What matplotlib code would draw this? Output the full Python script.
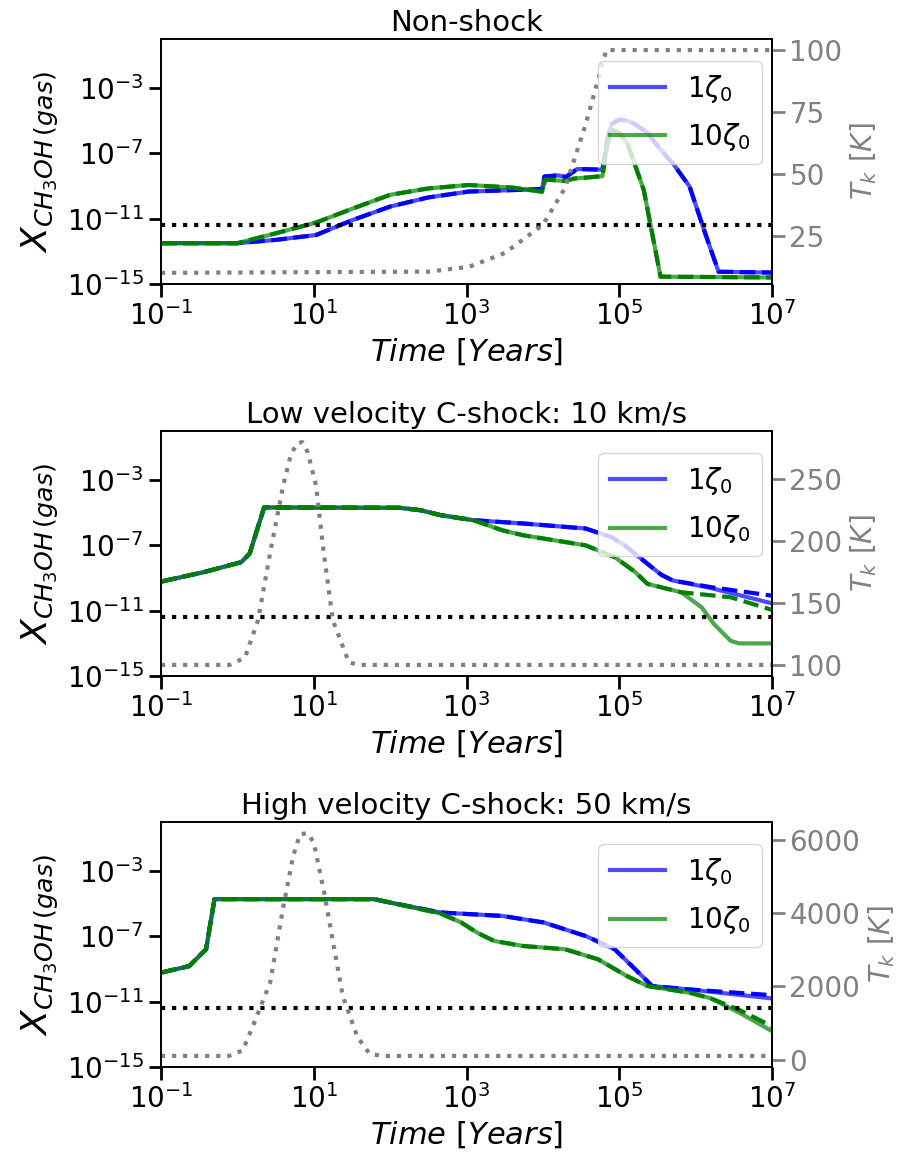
import numpy as np
import matplotlib
matplotlib.use('Agg')
import matplotlib.pyplot as plt
from matplotlib.ticker import NullLocator

# time grids are log10(years), abundances are log10(X), temperatures in K

# --- Non-shock ---
ns_t_blue = [-1, 0, 0.5, 1.03, 1.5, 2.0, 2.5, 3.03, 3.99, 4.02, 4.2, 4.3, 4.45, 4.78, 4.85,
             4.9, 5.0, 5.1, 5.2, 5.37, 5.51, 5.62, 5.70, 5.92, 6.14, 6.30, 7]
ns_x_blue = [-12.5, -12.5, -12.3, -12.0, -11.1, -10.26, -9.7, -9.34, -9.19, -8.42, -8.35,
             -8.45, -7.96, -8.0, -6.0, -5.2, -4.94, -5.0, -5.2, -5.73, -6.6, -7.2, -7.6, -9.03,
             -12.1, -14.25, -14.3]
ns_t_green = [-1, 0, 0.5, 1.03, 1.5, 2.0, 2.5, 3.03, 3.6, 3.99, 4.03, 4.3, 4.4, 4.78, 4.84,
              4.9, 5.0, 5.1, 5.32, 5.54, 7]
ns_x_green = [-12.5, -12.5, -11.9, -11.24, -10.4, -9.54, -9.15, -8.94, -9.1, -9.35, -8.6,
              -8.7, -8.55, -8.4, -6.5, -5.55, -5.75, -6.3, -9.23, -14.55, -14.6]
ns_t_temp = [-1, 2.5, 3.03, 3.5, 4.0, 4.29, 4.56, 4.83, 7]
ns_temp = [10, 10.5, 12.4, 18, 29.4, 44.3, 70, 100, 100]

# --- Low velocity C-shock ---
lv_t_blue = [-1, -0.44, 0.05, 0.16, 0.35, 2.12, 2.4, 2.66, 3.09, 3.74, 4.56, 4.9, 5.10, 5.37,
             5.55, 5.70, 6.19, 7]
lv_x_blue = [-9.22, -8.64, -8.03, -7.51, -4.68, -4.7, -4.85, -5.15, -5.46, -5.66, -5.97,
             -6.5, -7.1, -8.13, -8.8, -9.15, -9.6, -10.55]
lv_x_blue_dash = [-9.22, -8.64, -8.03, -7.51, -4.68, -4.7, -4.85, -5.15, -5.46, -5.66, -5.97,
                  -6.5, -7.1, -8.13, -8.8, -9.15, -9.55, -10.08]
lv_t_green = [-1, -0.44, 0.05, 0.16, 0.35, 2.12, 2.4, 2.66, 3.09, 3.47, 3.74, 4.56, 4.94,
              5.2, 5.37, 5.81, 6.08, 6.24, 6.46, 6.57, 7]
lv_x_green = [-9.22, -8.64, -8.03, -7.51, -4.68, -4.7, -4.85, -5.15, -5.46, -6.08, -6.38,
              -7.0, -7.72, -8.6, -9.36, -9.87, -10.8, -11.82, -12.85, -13.0, -13.0]
lv_t_green_dash = [-1, -0.44, 0.05, 0.16, 0.35, 2.12, 2.4, 2.66, 3.09, 3.47, 3.74, 4.56,
                   4.94, 5.2, 5.37, 5.81, 6.46, 7]
lv_x_green_dash = [-9.22, -8.64, -8.03, -7.51, -4.68, -4.7, -4.85, -5.15, -5.46, -6.08,
                   -6.38, -7.0, -7.72, -8.6, -9.36, -9.87, -10.18, -10.95]
lv_t_temp = [-1, -0.1, 0.10, 0.27, 0.43, 0.6, 0.7, 0.78, 0.85, 0.92, 1.03, 1.13, 1.25,
             1.46, 1.6, 7]
lv_temp = [100, 100, 106, 136, 191, 245, 270, 279, 280, 272, 245, 191, 136, 102, 100, 100]

# --- High velocity C-shock ---
hv_t_blue = [-1, -0.63, -0.41, -0.30, 1.79, 2.0, 2.66, 3.47, 4.01, 4.56, 4.94, 5.21, 5.43,
             5.92, 7]
hv_x_blue = [-9.22, -8.82, -7.79, -4.72, -4.72, -4.93, -5.54, -5.75, -6.15, -6.98, -7.79,
             -9.02, -10.04, -10.25, -10.8]
hv_x_blue_dash = [-9.22, -8.82, -7.79, -4.72, -4.72, -4.93, -5.54, -5.75, -6.15, -6.98, -7.79,
                  -9.02, -10.04, -10.25, -10.6]
hv_t_green = [-1, -0.63, -0.41, -0.30, 1.79, 2.0, 2.66, 2.93, 3.15, 3.36, 3.74, 4.29, 4.72,
              5.10, 5.37, 5.92, 6.19, 6.57, 7]
hv_x_green = [-9.22, -8.82, -7.79, -4.72, -4.72, -4.93, -5.6, -6.15, -6.8, -7.28, -7.59,
              -7.79, -8.4, -9.43, -10.04, -10.45, -10.78, -11.67, -12.8]
hv_x_green_dash = [-9.22, -8.82, -7.79, -4.72, -4.72, -4.93, -5.6, -6.15, -6.8, -7.28, -7.59,
                   -7.79, -8.4, -9.43, -10.04, -10.45, -10.78, -11.5, -12.5]
hv_t_temp = [-1, -0.11, 0.07, 0.21, 0.43, 0.60, 0.73, 0.82, 0.92, 1.0, 1.14, 1.25, 1.38,
             1.57, 1.73, 1.9, 7]
hv_temp = [100, 100, 251, 949, 2112, 4157, 5552, 6150, 6180, 5923, 4528, 3228, 1738, 622,
           159, 100, 100]

threshold = 4e-12
titles = ['Non-shock', 'Low velocity C-shock: 10 km/s', 'High velocity C-shock: 50 km/s']

panels = [
    (ns_t_blue, ns_x_blue, ns_t_blue, ns_x_blue, ns_t_green, ns_x_green, ns_t_green, ns_x_green,
     ns_t_temp, ns_temp),
    (lv_t_blue, lv_x_blue, lv_t_blue, lv_x_blue_dash, lv_t_green, lv_x_green,
     lv_t_green_dash, lv_x_green_dash, lv_t_temp, lv_temp),
    (hv_t_blue, hv_x_blue, hv_t_blue, hv_x_blue_dash, hv_t_green, hv_x_green,
     hv_t_green, hv_x_green_dash, hv_t_temp, hv_temp),
]

plt.rcParams['font.family'] = 'DejaVu Sans'
plt.rcParams['mathtext.fontset'] = 'dejavusans'

fig = plt.figure(figsize=(9.02, 11.63), dpi=100)
bottoms = [0.7558, 0.4187, 0.0825]

for i, p in enumerate(panels):
    tb, xb, tbd, xbd, tg, xg, tgd, xgd, tt, temp = p
    ax = fig.add_axes([0.1785, bottoms[i], 0.6774, 0.2107])
    lb, = ax.plot(10**np.array(tb), 10**np.array(xb), color='blue', lw=3, alpha=0.7,
                  label=r'$1\zeta_0$')
    ax.plot(10**np.array(tbd), 10**np.array(xbd), color='blue', lw=3, ls='--')
    lg, = ax.plot(10**np.array(tg), 10**np.array(xg), color='green', lw=3, alpha=0.7,
                  label=r'$10\zeta_0$')
    ax.plot(10**np.array(tgd), 10**np.array(xgd), color='green', lw=3, ls='--')
    ax.axhline(threshold, color='black', lw=3, ls=':')

    ax.set_xscale('log')
    ax.set_yscale('log')
    ax.set_xlim(1e-1, 1e7)
    ax.set_ylim(1e-15, 1)
    ax.set_xticks([1e-1, 1e1, 1e3, 1e5, 1e7])
    ax.set_yticks([1e-15, 1e-11, 1e-7, 1e-3])
    ax.xaxis.set_minor_locator(NullLocator())
    ax.yaxis.set_minor_locator(NullLocator())
    ax.tick_params(labelsize=20, length=9, width=2)
    ax.set_xlabel(r'$Time\ [Years]$', fontsize=22)
    ax.set_ylabel(r'$X_{CH_3OH\,(gas)}$', fontsize=26)
    ax.set_title(titles[i], fontsize=21)
    for s in ax.spines.values():
        s.set_linewidth(1.25)

    ax2 = ax.twinx()
    ax2.plot(10**np.array(tt), temp, color='gray', lw=3, ls=':')
    ax2.tick_params(labelsize=20, length=9, width=2, colors='gray')
    ax2.set_ylabel(r'$T_k\ [K]$', fontsize=20, color='gray')
    for s in ax2.spines.values():
        s.set_linewidth(1.25)
        s.set_color('black')
    ax2.legend(handles=[lb, lg], loc='upper right', fontsize=20, labelspacing=0.6,
               bbox_to_anchor=(1.006, 0.965))

fig.savefig('out.png', dpi=100)
